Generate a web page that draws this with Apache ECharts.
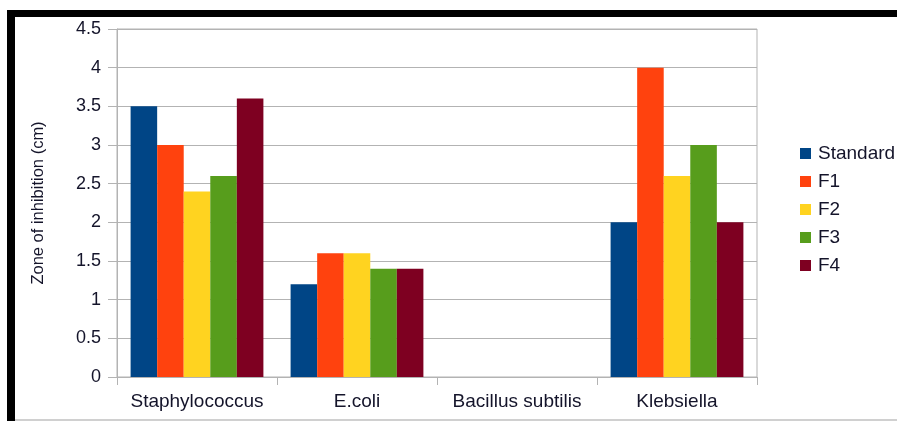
<!DOCTYPE html>
<html>
<head>
<meta charset="utf-8">
<title>Zone of inhibition</title>
<script src="https://cdn.jsdelivr.net/npm/echarts@6/dist/echarts.min.js"></script>
<style>
  html, body { margin: 0; padding: 0; background: #fff; }
  #chart { width: 897px; height: 421px; }
</style>
</head>
<body>
<div id="chart"></div>
<script>
// Organisms tested
const categories = ['Staphylococcus', 'E.coli', 'Bacillus subtilis', 'Klebsiella'];

// Zone of inhibition (cm) per formulation
const standard = [3.5, 1.2, 0, 2.0];
const f1 = [3.0, 1.6, 0, 4.0];
const f2 = [2.4, 1.6, 0, 2.6];
const f3 = [2.6, 1.4, 0, 3.0];
const f4 = [3.6, 1.4, 0, 2.0];

const seriesNames = ['Standard', 'F1', 'F2', 'F3', 'F4'];
const seriesValues = [standard, f1, f2, f3, f4];
const palette = ['#004586', '#ff420e', '#ffd320', '#579d1c', '#7e0021'];

const font = '"Liberation Sans", Arial, sans-serif';
const gridGrey = '#b3b3b3';
const textColor = '#14142a';

const chart = echarts.init(document.getElementById('chart'), null, { renderer: 'canvas' });

chart.setOption({
  animation: false,
  backgroundColor: '#fff',
  textStyle: { fontFamily: font },
  graphic: [
    // frame: black band on top and left, thin grey line at the bottom
    { type: 'rect', shape: { x: 7, y: 10, width: 890, height: 7 }, style: { fill: '#000' } },
    { type: 'rect', shape: { x: 7, y: 10, width: 8, height: 411 }, style: { fill: '#000' } },
    { type: 'rect', shape: { x: 15, y: 419, width: 882, height: 2 }, style: { fill: '#d0d0d0' } }
  ],
  grid: {
    left: 117, top: 29, width: 640, height: 348,
    show: true, borderColor: gridGrey, borderWidth: 1, backgroundColor: 'transparent'
  },
  legend: {
    orient: 'vertical',
    left: 800, top: 144,
    padding: 0,
    itemWidth: 11, itemHeight: 11,
    itemGap: 9,
    icon: 'rect',
    textStyle: { fontSize: 19, color: textColor, fontFamily: font, padding: [0, 0, 0, 2] },
    data: seriesNames
  },
  xAxis: {
    type: 'category',
    data: categories,
    boundaryGap: true,
    axisLine: { lineStyle: { color: gridGrey, width: 1 } },
    axisTick: { show: true, length: 8, lineStyle: { color: gridGrey } },
    axisLabel: { interval: 0, fontSize: 19, color: textColor, margin: 15, fontFamily: font },
    splitLine: { show: false }
  },
  yAxis: {
    type: 'value',
    min: 0, max: 4.5, interval: 0.5,
    name: 'Zone of inhibition (cm)',
    nameLocation: 'middle',
    nameGap: 70,
    nameRotate: 90,
    nameTextStyle: { fontSize: 16.5, color: textColor, fontFamily: font },
    axisLine: { show: true, lineStyle: { color: gridGrey, width: 1 } },
    axisTick: { show: true, length: 9, lineStyle: { color: gridGrey } },
    axisLabel: {
      fontSize: 18, color: textColor, margin: 16, fontFamily: font,
      formatter: v => String(v)
    },
    splitLine: { show: true, lineStyle: { color: gridGrey, width: 1 } }
  },
  series: seriesNames.map((name, i) => ({
    name,
    type: 'bar',
    data: seriesValues[i],
    barGap: '0%',
    barCategoryGap: '17%',
    itemStyle: { color: palette[i] }
  }))
});
</script>
</body>
</html>
